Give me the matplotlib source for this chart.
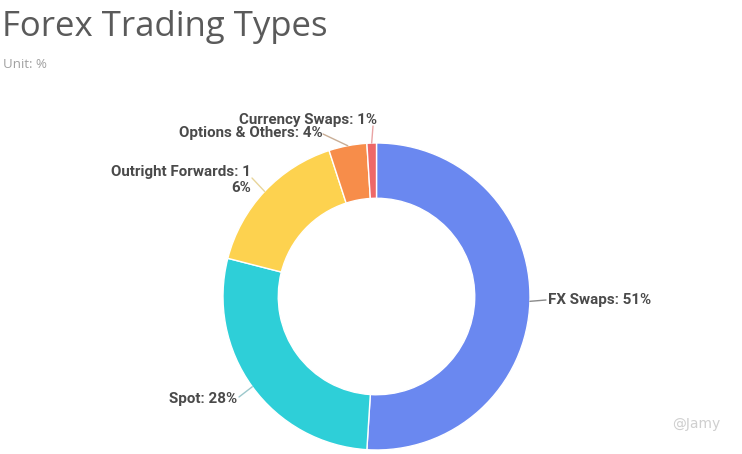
import numpy as np
import matplotlib
matplotlib.use("Agg")
import matplotlib.pyplot as plt

# ---- data ----
categories = ["FX Swaps", "Spot", "Outright Forwards", "Options & Others", "Currency Swaps"]
values = [51, 28, 16, 4, 1]
label_texts = ["FX Swaps: 51%", "Spot: 28%", "Outright Forwards: 1\n6%",
               "Options & Others: 4%", "Currency Swaps: 1%"]
colors = ["#6A88F0", "#2ECFD8", "#FDD24F", "#F78D4A", "#EE6868"]
leader_colors = ["#8a8a8a", "#9cc8cc", "#e8d59a", "#c9ae96", "#e9a3a3"]

W, H = 742, 454
CX, CY, R = 376.5, 296.5, 153.5   # pixel layout of the donut
RING = 0.36

fig = plt.figure(figsize=(W / 100, H / 100), dpi=100)
ax = fig.add_axes([0, 0, 1, 1])
ax.axis("off")

wedges, _ = ax.pie(values, colors=colors, startangle=90, counterclock=False,
                   radius=1.0, wedgeprops=dict(width=RING, edgecolor="white", linewidth=1.0))
ax.set_xlim(-CX / R, (W - CX) / R)
ax.set_ylim(-(H - CY) / R, CY / R)
ax.set_aspect("auto")

def px(x, y):
    return ((x - CX) / R, (CY - y) / R)

# label layout: (leader end pixel, text anchor pixel, ha)
layout = [
    ((546, 300), (548, 300), "left"),
    ((239, 397), (237, 399), "right"),
    ((252, 178), (251, 180), "right"),
    ((323, 134), (323, 133), "right"),
    ((373, 126), (377, 120), "right"),
]

for w, txt, lc, (lend, tpos, ha) in zip(wedges, label_texts, leader_colors, layout):
    ang = np.deg2rad((w.theta1 + w.theta2) / 2)
    sx, sy = np.cos(ang), np.sin(ang)
    ex, ey = px(*lend)
    ax.plot([sx, ex], [sy, ey], color=lc, lw=1.0, solid_capstyle="round")
    tx, ty = px(*tpos)
    ax.text(tx, ty, txt, ha=ha, va="center", fontsize=10.9, color="#4a4a4a",
            family=["Roboto", "DejaVu Sans"], fontweight="bold", linespacing=1.15)

fig.text(2 / W, 1 - 27 / H, "Forex Trading Types", fontsize=25, color="#5a5a5a",
         family=["Open Sans", "DejaVu Sans"], va="center", ha="left")
fig.text(3 / W, 1 - 64 / H, "Unit: %", fontsize=9.5, color="#a0a0a0",
         family=["Open Sans", "DejaVu Sans"], va="center", ha="left")
fig.text(672 / W, 1 - 424 / H, "@Jamy", fontsize=10, color="#cfcfcf",
         family=["DejaVu Sans"], va="center", ha="left")

fig.savefig("out.png", dpi=100, facecolor="white")
